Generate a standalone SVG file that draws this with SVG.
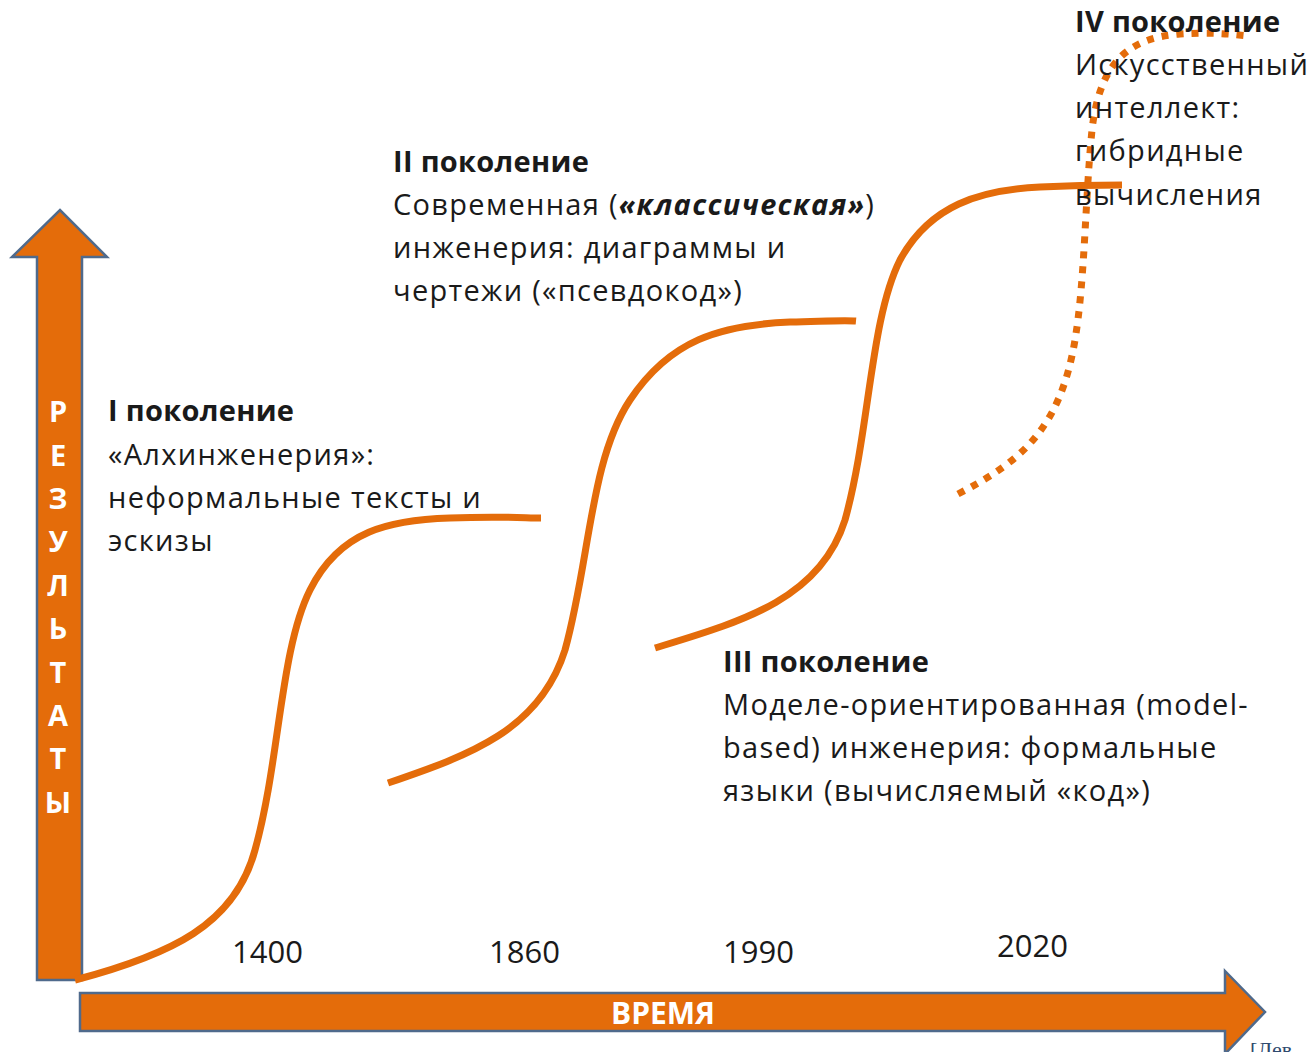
<svg xmlns="http://www.w3.org/2000/svg" width="1312" height="1052" viewBox="0 0 1312 1052">
  <style>
    .axis { fill: #E46C0A; stroke: #4F6A8C; stroke-width: 2.5; stroke-linejoin: miter; }
    .axis-label { font-family: "Open Sans", "Noto Sans", sans-serif; font-weight: 700; fill: #ffffff; }
    .curve { fill: none; stroke: #E46C0A; stroke-width: 7; stroke-linecap: butt; }
    .dotted { fill: none; stroke: #E46C0A; stroke-width: 7; stroke-dasharray: 7 8; }
    .txt { font-family: "Open Sans", "Noto Sans", sans-serif; font-size: 29px; letter-spacing: 1.3px; fill: #1a1a1a; }
    .head { font-weight: 700; letter-spacing: 0.3px; }
    .year { font-family: "Open Sans", "Noto Sans", sans-serif; font-size: 31px; fill: #1a1a1a; }
  </style>

  <rect width="1312" height="1052" fill="#ffffff"/>

  <!-- vertical axis: results -->
  <g id="axis-results">
    <polygon class="axis" points="37,980 82,980 82,257 107,257 60,210 12,257 37,257"/>
    <g class="axis-label" font-size="29" text-anchor="middle">
      <text x="58" y="422">Р</text>
      <text x="58" y="466">Е</text>
      <text x="58" y="509">З</text>
      <text x="58" y="552">У</text>
      <text x="58" y="596">Л</text>
      <text x="58" y="639">Ь</text>
      <text x="58" y="683">Т</text>
      <text x="58" y="726">А</text>
      <text x="58" y="769">Т</text>
      <text x="58" y="813">Ы</text>
    </g>
  </g>

  <!-- horizontal axis: time -->
  <g id="axis-time">
    <polygon class="axis" points="80,993 1225,993 1225,971 1265,1012 1225,1054 1225,1031 80,1031"/>
    <text class="axis-label" x="663" y="1024" font-size="30" text-anchor="middle">ВРЕМЯ</text>
  </g>

  <!-- generation S-curves -->
  <g id="connectors">
    <path class="curve" d="M75,980 C170,955 235,925 255,850 C280,760 280,650 310,590 C340,530 390,520 450,518 C500,516 525,518 541,518"/>
    <path class="curve" d="M388,783 C470,755 540,730 565,650 C590,560 590,460 630,400 C670,340 720,325 790,322 C830,321 845,320 856,321"/>
    <path class="curve" d="M655,648 C740,622 820,600 845,520 C870,430 870,320 900,260 C930,205 980,190 1040,187 C1080,185 1105,185 1122,185"/>
    <path class="dotted" d="M958,494 C1020,462 1060,430 1075,340 C1085,280 1085,200 1092,130 C1100,60 1130,38 1180,34 C1210,32 1230,34 1248,36"/>
  </g>

  <!-- generation I -->
  <g id="gen-1" class="txt">
    <text x="108" y="421" class="head">I поколение</text>
    <text x="108" y="465">«Алхинженерия»:</text>
    <text x="108" y="508">неформальные тексты и</text>
    <text x="108" y="551">эскизы</text>
  </g>

  <!-- generation II -->
  <g id="gen-2" class="txt">
    <text x="393" y="172" class="head">II поколение</text>
    <text x="393" y="215">Современная (<tspan font-weight="700" font-style="italic">«классическая»</tspan>)</text>
    <text x="393" y="258">инженерия: диаграммы и</text>
    <text x="393" y="301">чертежи («псевдокод»)</text>
  </g>

  <!-- generation III -->
  <g id="gen-3" class="txt">
    <text x="723" y="672" class="head">III поколение</text>
    <text x="723" y="715">Моделе-ориентированная (model-</text>
    <text x="723" y="758">based) инженерия: формальные</text>
    <text x="723" y="801">языки (вычисляемый «код»)</text>
  </g>

  <!-- generation IV -->
  <g id="gen-4" class="txt">
    <text x="1075" y="32" class="head">IV поколение</text>
    <text x="1075" y="75">Искусственный</text>
    <text x="1075" y="118">интеллект:</text>
    <text x="1075" y="161">гибридные</text>
    <text x="1075" y="205">вычисления</text>
  </g>

  <!-- time marks -->
  <g id="years" class="year">
    <text x="232" y="963">1400</text>
    <text x="489" y="963">1860</text>
    <text x="723" y="963">1990</text>
    <text x="997" y="957">2020</text>
  </g>

  <!-- source reference, running off the lower edge -->
  <text x="1250" y="1057" font-family="Liberation Serif, serif" font-size="22" fill="#2F4A6E">[Лев</text>
</svg>
